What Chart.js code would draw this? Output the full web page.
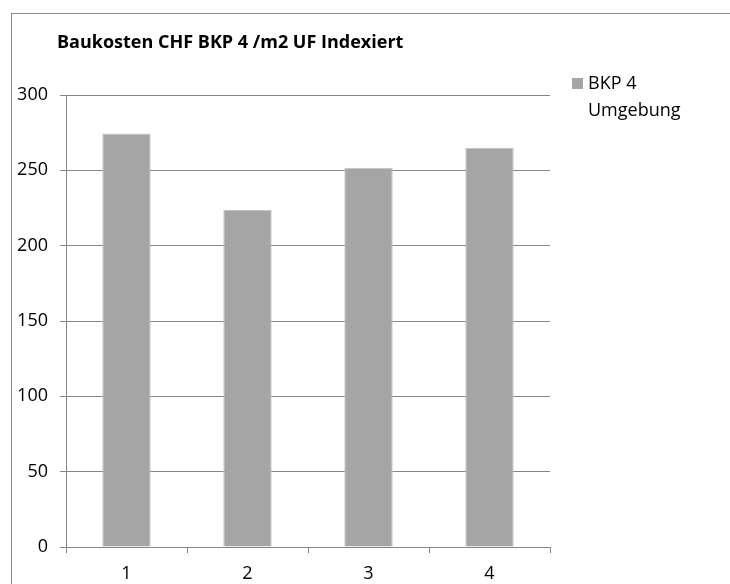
<!DOCTYPE html>
<html>
<head>
<meta charset="utf-8">
<script src="https://cdn.jsdelivr.net/npm/chart.js@4.4.1/dist/chart.umd.min.js"></script>
<style>
  html, body { margin: 0; padding: 0; background: #fff; }
  #wrap { position: relative; width: 730px; height: 584px; overflow: hidden; }
  #frame { position: absolute; left: 11px; top: 13px; width: 740px; height: 600px; border: 1px solid #8c8c8c; }
  canvas { position: absolute; left: 0; top: 0; }
</style>
</head>
<body>
<div id="wrap">
  <div id="frame"></div>
  <canvas id="kostenChart" width="730" height="584"></canvas>
</div>
<script>
// Daten
const categories = ['1', '2', '3', '4'];
const bkp4Values = [274.5, 223.6, 251.7, 265];
const legendLines = ['BKP 4', 'Umgebung'];
const chartTitle = 'Baukosten CHF BKP 4 /m2 UF Indexiert';
const yMin = 0;
const yMax = 300;
const yStep = 50;

const barColor = '#a5a5a5';
const lineColor = '#878787';
const fontFamily = '"Open Sans", "Liberation Sans", sans-serif';

// Titel und Legende werden von Hand gezeichnet (Excel-Layout)
const excelExtras = {
  id: 'excelExtras',
  afterDraw(chart) {
    const ctx = chart.ctx;
    ctx.save();
    ctx.fillStyle = '#000';
    ctx.textBaseline = 'alphabetic';
    ctx.font = 'bold 18px ' + fontFamily;
    ctx.fillText(chartTitle, 57, 48);

    const ds = chart.data.datasets[0];
    ctx.fillStyle = ds.backgroundColor;
    ctx.fillRect(572, 78, 11, 11);
    ctx.fillStyle = '#000';
    ctx.font = '18px ' + fontFamily;
    legendLines.forEach((line, i) => {
      ctx.fillText(line, 588, 89 + i * 27);
    });
    ctx.restore();
  }
};

const ctx = document.getElementById('kostenChart').getContext('2d');
new Chart(ctx, {
  type: 'bar',
  data: {
    labels: categories,
    datasets: [{
      label: legendLines.join(' '),
      data: bkp4Values,
      backgroundColor: barColor,
      borderColor: '#c4c4c4',
      borderWidth: 1,
      categoryPercentage: 1.0,
      barPercentage: 0.4
    }]
  },
  options: {
    responsive: false,
    animation: false,
    devicePixelRatio: 1,
    layout: { padding: { left: 0, top: 95, right: 180, bottom: 0 } },
    plugins: {
      legend: { display: false },
      title: { display: false },
      tooltip: { enabled: false }
    },
    scales: {
      x: {
        offset: true,
        grid: {
          display: true,
          drawOnChartArea: false,
          drawTicks: true,
          tickLength: 6,
          color: lineColor,
          offset: true
        },
        border: { display: true, color: lineColor, width: 1 },
        ticks: {
          color: '#000',
          padding: 10,
          font: { family: fontFamily, size: 18 }
        },
        afterFit(scale) { scale.height = 37; }
      },
      y: {
        min: yMin,
        max: yMax,
        ticks: {
          stepSize: yStep,
          color: '#000',
          padding: 12,
          font: { family: fontFamily, size: 18 }
        },
        grid: {
          color: lineColor,
          lineWidth: 1,
          tickLength: 6
        },
        border: { display: true, color: lineColor, width: 1 },
        afterFit(scale) { scale.width = 66; }
      }
    }
  },
  plugins: [excelExtras]
});
</script>
</body>
</html>
